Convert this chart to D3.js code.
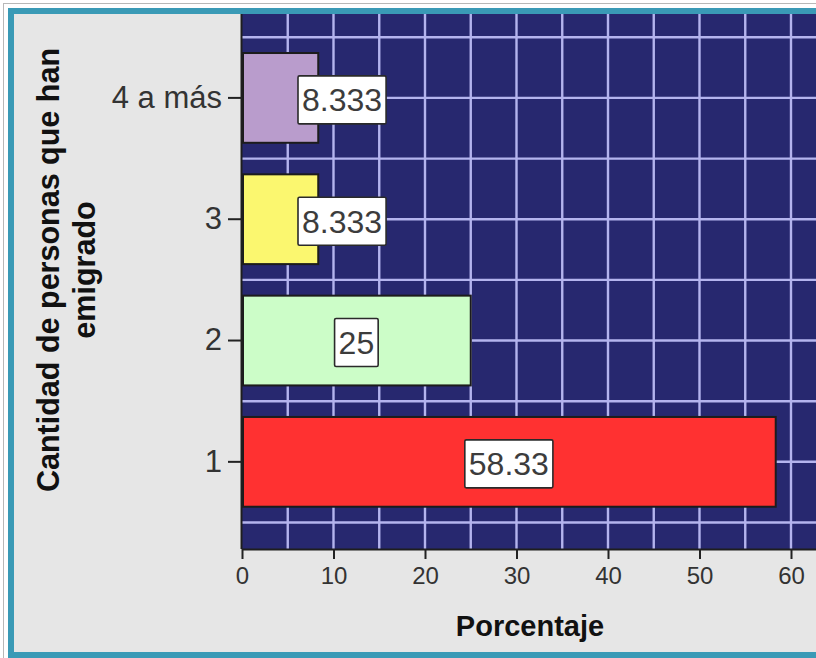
<!DOCTYPE html>
<html>
<head>
<meta charset="utf-8">
<script src="https://cdn.jsdelivr.net/npm/d3@7"></script>
<style>
  html, body { margin: 0; padding: 0; background: #ffffff; }
  svg { display: block; font-family: "Liberation Sans", Arial, sans-serif; }
</style>
</head>
<body>
<svg id="chart" width="816" height="658"></svg>
<script>
// ---- data ----
const categories = ["1", "2", "3", "4 a más"];
const values = [58.33, 25, 8.333, 8.333];
const valueLabels = ["58.33", "25", "8.333", "8.333"];
const barColors = ["#ff3131", "#ccfdc8", "#fbf76f", "#b99ccc"];
const xTickValues = [0, 10, 20, 30, 40, 50, 60];
const xTitle = "Porcentaje";
const yTitleLines = ["Cantidad de personas que han", "emigrado"];

// ---- layout ----
const W = 816, H = 658;
const plot = { left: 242, top: 14, right: 816, bottom: 549 };

const svg = d3.select("#chart");

// outer frame
svg.append("rect").attr("x", 3.5).attr("y", 3.5).attr("width", W).attr("height", H)
  .attr("fill", "#ffffff").attr("stroke", "#b8b8b8").attr("stroke-width", 1);
svg.append("rect").attr("x", 8).attr("y", 8).attr("width", W - 8).attr("height", H - 8)
  .attr("fill", "#3a9ab6");
svg.append("rect").attr("x", 14).attr("y", 14).attr("width", W - 14).attr("height", 638)
  .attr("fill", "#e6e6e6");

// scales
const x = d3.scaleLinear().domain([0, 60]).range([plot.left, plot.left + 549]);
const y = d3.scaleBand()
  .domain(categories.slice().reverse())
  .range([plot.top, plot.bottom])
  .paddingInner(0.26)
  .paddingOuter(0.335)
  .align(0.48);
const step = y.step(), bw = y.bandwidth();

// clip
svg.append("clipPath").attr("id", "plotclip")
  .append("rect").attr("x", plot.left).attr("y", plot.top)
  .attr("width", plot.right - plot.left).attr("height", plot.bottom - plot.top);

const g = svg.append("g").attr("clip-path", "url(#plotclip)");
g.append("rect").attr("x", plot.left).attr("y", plot.top)
  .attr("width", plot.right - plot.left).attr("height", plot.bottom - plot.top)
  .attr("fill", "#27286f");

// vertical grid lines every 5 units
const vGrid = d3.range(5, 70, 5);
g.selectAll("line.vg").data(vGrid).join("line")
  .attr("x1", d => x(d)).attr("x2", d => x(d))
  .attr("y1", plot.top).attr("y2", plot.bottom)
  .attr("stroke", "#b4b4ee").attr("stroke-width", 2.4);

// horizontal grid lines at band centres and between bands
const hGrid = [];
categories.forEach(c => {
  const cy = y(c) + bw / 2;
  hGrid.push(cy, cy - step / 2, cy + step / 2);
});
g.selectAll("line.hg").data(Array.from(new Set(hGrid.map(v => Math.round(v * 10) / 10)))).join("line")
  .attr("x1", plot.left).attr("x2", plot.right)
  .attr("y1", d => d).attr("y2", d => d)
  .attr("stroke", "#b4b4ee").attr("stroke-width", 2.4);

// bars
const rows = categories.map((c, i) => ({ c, v: values[i], lab: valueLabels[i], col: barColors[i] }));
g.selectAll("rect.bar").data(rows).join("rect")
  .attr("class", "bar")
  .attr("x", x(0) + 1)
  .attr("y", d => y(d.c))
  .attr("width", d => x(d.v) - x(0) - 1)
  .attr("height", bw)
  .attr("fill", d => d.col)
  .attr("stroke", "#1c1c1c").attr("stroke-width", 2);

// value labels
const lg = svg.append("g");
rows.forEach(d => {
  const cy = y(d.c) + bw / 2 + 2;
  const t = lg.append("text")
    .attr("y", cy).attr("dy", "0.36em")
    .attr("text-anchor", "middle")
    .attr("font-size", 32).attr("fill", "#3c3c3c")
    .text(d.lab);
  const tw = t.node().getComputedTextLength();
  const boxW = tw + 8, boxH = 48;
  let cx = (x(0) + x(d.v)) / 2;
  const minCx = x(0) + 56 + boxW / 2;
  if (boxW + 10 > x(d.v) - x(0)) cx = Math.max(cx, minCx);
  t.attr("x", cx);
  lg.insert("rect", () => t.node())
    .attr("x", cx - boxW / 2).attr("y", cy - boxH / 2)
    .attr("width", boxW).attr("height", boxH)
    .attr("fill", "#ffffff").attr("stroke", "#2a2a2a").attr("stroke-width", 1.6)
    .attr("rx", 1.5);
});

// axes
const xAxis = svg.append("g").attr("transform", `translate(0,${plot.bottom})`)
  .call(d3.axisBottom(x).tickValues(xTickValues).tickSize(10).tickPadding(8).tickFormat(d3.format("d")));
xAxis.select(".domain").attr("d", `M${plot.left},0.5H${plot.right}`).attr("stroke", "#1e1e1e").attr("stroke-width", 2);
xAxis.selectAll(".tick line").attr("stroke", "#222").attr("stroke-width", 2);
xAxis.selectAll(".tick text").attr("font-size", 24).attr("fill", "#333")
  .attr("font-family", "'Liberation Sans', Arial, sans-serif");

const yAxis = svg.append("g").attr("transform", `translate(${plot.left},0)`)
  .call(d3.axisLeft(y).tickSize(14).tickPadding(6));
yAxis.select(".domain").attr("d", `M-0.5,${plot.top}V${plot.bottom}`).attr("stroke", "#1e1e1e").attr("stroke-width", 2);
yAxis.selectAll(".tick line").attr("stroke", "#222").attr("stroke-width", 2);
yAxis.selectAll(".tick text").attr("font-size", 31).attr("fill", "#333")
  .attr("font-family", "'Liberation Sans', Arial, sans-serif");

// titles
svg.append("text").attr("x", 530).attr("y", 636)
  .attr("text-anchor", "middle").attr("font-size", 29).attr("font-weight", "bold")
  .attr("fill", "#111").text(xTitle);

const yt = svg.append("text")
  .attr("transform", "translate(0,270) rotate(-90)")
  .attr("text-anchor", "middle").attr("font-size", 30.5).attr("font-weight", "bold")
  .attr("fill", "#111");
yTitleLines.forEach((ln, i) => {
  yt.append("tspan").attr("x", 0).attr("y", 59 + i * 36).text(ln);
});
</script>
</body>
</html>
